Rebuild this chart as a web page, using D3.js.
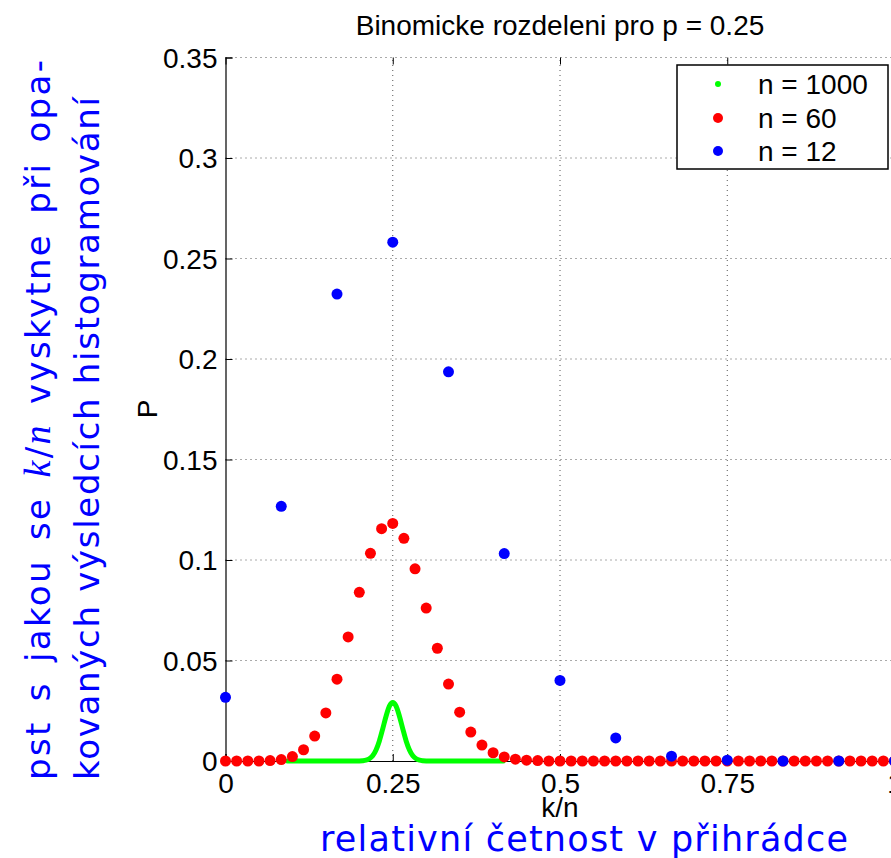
<!DOCTYPE html>
<html>
<head>
<meta charset="utf-8">
<script src="https://cdn.jsdelivr.net/npm/d3@7"></script>
<style>
  body { margin: 0; background: #fff; }
  svg { display: block; }
  .tick-label { font-family: "Liberation Sans", Arial, sans-serif; font-size: 28px; fill: #000; }
  .blue-label { font-family: "DejaVu Sans", sans-serif; fill: #0000ff; }
</style>
</head>
<body>
<div id="chart"></div>
<script>

// ---- data ----
var xTicks = [0, 0.25, 0.5, 0.75, 1];
var xTickLabels = ["0", "0.25", "0.5", "0.75", "1"];
var yTicks = [0, 0.05, 0.1, 0.15, 0.2, 0.25, 0.3, 0.35];
var yTickLabels = ["0", "0.05", "0.1", "0.15", "0.2", "0.25", "0.3", "0.35"];

// n = 12, k = 0..12
var p12 = [0.0317, 0.1267, 0.2323, 0.2581, 0.1936, 0.1032, 0.0401, 0.0115,
           0.0024, 0.0004, 0.0000, 0.0000, 0.0000];

// n = 60, k = 0..60
var p60 = [0.0000, 0.0000, 0.0000, 0.0000, 0.0002, 0.0007, 0.0022, 0.0056,
           0.0124, 0.0239, 0.0407, 0.0617, 0.0839, 0.1033, 0.1156, 0.1182,
           0.1108, 0.0956, 0.0761, 0.0561, 0.0383, 0.0243, 0.0144, 0.0079,
           0.0041, 0.0020, 0.0009, 0.0004, 0.0002, 0.0000, 0.0000, 0.0000,
           0.0000, 0.0000, 0.0000, 0.0000, 0.0000, 0.0000, 0.0000, 0.0000,
           0.0000, 0.0000, 0.0000, 0.0000, 0.0000, 0.0000, 0.0000, 0.0000,
           0.0000, 0.0000, 0.0000, 0.0000, 0.0000, 0.0000, 0.0000, 0.0000,
           0.0000, 0.0000, 0.0000, 0.0000, 0.0000];

// n = 1000, sampled along the drawn curve (k/n, P)
var kn1000 = [0.093, 0.19, 0.20, 0.205, 0.21, 0.215, 0.22, 0.225, 0.23, 0.235, 0.24, 0.245,
              0.25, 0.255, 0.26, 0.265, 0.27, 0.275, 0.28, 0.285, 0.29, 0.295, 0.30, 0.31, 0.415];
var p1000 = [0.0000, 0.0000, 0.00004, 0.00013, 0.0004, 0.0011, 0.0026, 0.0055, 0.0100, 0.0160, 0.0223, 0.0273,
             0.0291, 0.0273, 0.0223, 0.0160, 0.0100, 0.0055, 0.0026, 0.0011, 0.0004, 0.00013, 0.00004, 0.0000, 0.0000];

var legendNames = ["n = 1000", "n = 60", "n = 12"];
var legendColors = ["#00ff00", "#ff0000", "#0000ff"];

// ---- layout ----
var W = 891, H = 858;
var x0 = 225.5, x1 = 894.5, yTop = 57.5, yBot = 761;

var svg = d3.select("#chart").append("svg")
    .attr("width", W)
    .attr("height", H);

var x = d3.scaleLinear().domain([0, 1]).range([x0, x1]);
var y = d3.scaleLinear().domain([0, 0.35]).range([yBot, yTop]);

// grid
svg.append("g").selectAll("line.gx")
    .data(xTicks.slice(1))
    .enter().append("line")
    .attr("x1", function(d) { return x(d); })
    .attr("x2", function(d) { return x(d); })
    .attr("y1", yBot).attr("y2", yTop)
    .attr("stroke", "#555").attr("stroke-width", 1)
    .attr("stroke-dasharray", "1,4");

svg.append("g").selectAll("line.gy")
    .data(yTicks.slice(1))
    .enter().append("line")
    .attr("x1", x0).attr("x2", x1)
    .attr("y1", function(d) { return y(d); })
    .attr("y2", function(d) { return y(d); })
    .attr("stroke", "#555").attr("stroke-width", 1)
    .attr("stroke-dasharray", "1,4");

// axes (ticks inside)
var xAxis = svg.append("g")
    .attr("transform", "translate(0," + yBot + ")")
    .call(d3.axisBottom(x).tickValues(xTicks).tickSize(-7).tickFormat(function(d, i) { return xTickLabels[i]; }));
xAxis.selectAll("text").attr("class", "tick-label").attr("dy", null).attr("y", 32);

var xAxisTop = svg.append("g")
    .attr("transform", "translate(0," + yTop + ")")
    .call(d3.axisTop(x).tickValues(xTicks).tickSize(-7).tickFormat(""));
xAxisTop.select(".domain").remove();

var yAxis = svg.append("g")
    .attr("transform", "translate(" + x0 + ",0)")
    .call(d3.axisLeft(y).tickValues(yTicks).tickSize(-7).tickPadding(8).tickFormat(function(d, i) { return yTickLabels[i]; }));
yAxis.selectAll("text").attr("class", "tick-label").attr("dy", "0.35em");

svg.selectAll(".domain").attr("stroke", "#000").attr("stroke-width", 1.2);
svg.selectAll(".tick line").attr("stroke", "#000");

// n = 1000 curve
var line = d3.line()
    .x(function(d, i) { return x(kn1000[i]); })
    .y(function(d) { return y(d); })
    .curve(d3.curveMonotoneX);

svg.append("path")
    .datum(p1000)
    .attr("d", line)
    .attr("fill", "none")
    .attr("stroke", "#00ff00")
    .attr("stroke-width", 5)
    .attr("stroke-linejoin", "round")
    .attr("stroke-linecap", "round");

// n = 60
svg.append("g").selectAll("circle")
    .data(p60)
    .enter().append("circle")
    .attr("cx", function(d, i) { return x(i / 60); })
    .attr("cy", function(d) { return y(d); })
    .attr("r", 5.5)
    .attr("fill", "#ff0000");

// n = 12
svg.append("g").selectAll("circle")
    .data(p12)
    .enter().append("circle")
    .attr("cx", function(d, i) { return x(i / 12); })
    .attr("cy", function(d) { return y(d); })
    .attr("r", 5.5)
    .attr("fill", "#0000ff");

// legend
var lg = svg.append("g");
lg.append("rect")
    .attr("x", 677).attr("y", 65)
    .attr("width", 211).attr("height", 104)
    .attr("fill", "#fff").attr("stroke", "#000").attr("stroke-width", 1.5);

var rowY = [84, 118, 151];
var markR = [3, 5, 5];
lg.selectAll("circle")
    .data(legendNames)
    .enter().append("circle")
    .attr("cx", 718)
    .attr("cy", function(d, i) { return rowY[i]; })
    .attr("r", function(d, i) { return markR[i]; })
    .attr("fill", function(d, i) { return legendColors[i]; });

lg.selectAll("text")
    .data(legendNames)
    .enter().append("text")
    .attr("class", "tick-label")
    .attr("x", 758)
    .attr("y", function(d, i) { return rowY[i] + 10; })
    .text(function(d) { return d; });

// title and axis labels
svg.append("text")
    .attr("class", "tick-label")
    .attr("x", (x0 + x1) / 2).attr("y", 35)
    .attr("text-anchor", "middle")
    .text("Binomicke rozdeleni pro p = 0.25");

svg.append("text")
    .attr("class", "tick-label")
    .attr("x", (x0 + x1) / 2).attr("y", 817)
    .attr("text-anchor", "middle")
    .text("k/n");

svg.append("text")
    .attr("class", "tick-label")
    .attr("transform", "translate(157,409) rotate(-90)")
    .attr("text-anchor", "middle")
    .text("P");

// blue LaTeX-ish labels
svg.append("text")
    .attr("class", "blue-label")
    .attr("x", 320).attr("y", 851)
    .attr("textLength", 528)
    .attr("lengthAdjust", "spacing")
    .style("font-size", "35px")
    .text("relativní četnost v přihrádce");

var yl = svg.append("text")
    .attr("class", "blue-label")
    .attr("transform", "translate(50,780) rotate(-90)")
    .attr("textLength", 720)
    .attr("lengthAdjust", "spacing")
    .style("font-size", "34px")
    .style("word-spacing", "6px");
yl.append("tspan").text("pst s jakou se ");
yl.append("tspan").style("font-family", "'Liberation Serif', serif").style("font-style", "italic").style("font-size", "38px").text("k");
yl.append("tspan").text("/");
yl.append("tspan").style("font-family", "'Liberation Serif', serif").style("font-style", "italic").style("font-size", "38px").text("n");
yl.append("tspan").text(" vyskytne při opa-");

svg.append("text")
    .attr("class", "blue-label")
    .attr("transform", "translate(99,780) rotate(-90)")
    .attr("textLength", 683)
    .attr("lengthAdjust", "spacing")
    .style("font-size", "34px")
    .text("kovaných výsledcích histogramování");

</script>
</body>
</html>
